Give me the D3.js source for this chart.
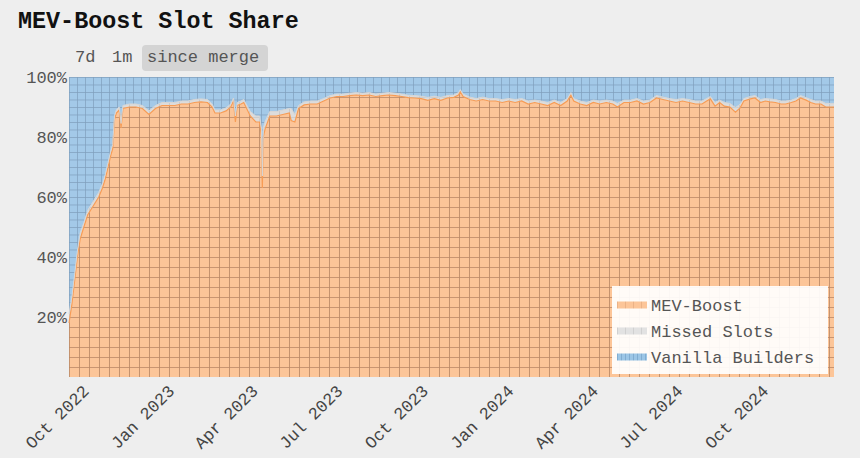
<!DOCTYPE html>
<html>
<head>
<meta charset="utf-8">
<script src="https://cdn.jsdelivr.net/npm/d3@7"></script>
<style>
  body { margin: 0; background: #eeeeee; }
  svg { display: block; font-family: "Liberation Mono", "Courier New", monospace; }
</style>
</head>
<body>
<svg id="chart" width="860" height="458"></svg>
<script>
// data (share of slots, %)
const dates = [
  "2022-09-15","2022-09-18","2022-09-21","2022-09-24","2022-09-27","2022-10-01","2022-10-05","2022-10-09","2022-10-13","2022-10-17",
  "2022-10-21","2022-10-24","2022-10-27","2022-10-30","2022-11-01","2022-11-03","2022-11-05","2022-11-08","2022-11-10","2022-11-12",
  "2022-11-19","2022-11-26","2022-12-03","2022-12-10","2022-12-17","2022-12-24","2022-12-31","2023-01-07","2023-01-14","2023-01-21",
  "2023-01-28","2023-02-04","2023-02-11","2023-02-16","2023-02-19","2023-02-25","2023-03-03","2023-03-08","2023-03-11","2023-03-13",
  "2023-03-15","2023-03-19","2023-03-22","2023-03-29","2023-04-04","2023-04-08","2023-04-10","2023-04-11","2023-04-12","2023-04-14",
  "2023-04-19","2023-04-26","2023-05-03","2023-05-10","2023-05-12","2023-05-16","2023-05-20","2023-05-26","2023-06-02","2023-06-09",
  "2023-06-16","2023-06-23","2023-06-30","2023-07-07","2023-07-14","2023-07-21","2023-07-28","2023-08-04","2023-08-11","2023-08-18",
  "2023-08-25","2023-09-01","2023-09-08","2023-09-15","2023-09-22","2023-09-29","2023-10-06","2023-10-13","2023-10-20","2023-10-27",
  "2023-11-03","2023-11-08","2023-11-10","2023-11-13","2023-11-20","2023-11-27","2023-12-04","2023-12-11","2023-12-18","2023-12-25",
  "2024-01-01","2024-01-08","2024-01-15","2024-01-22","2024-01-29","2024-02-05","2024-02-12","2024-02-19","2024-02-26","2024-03-04",
  "2024-03-08","2024-03-11","2024-03-18","2024-03-25","2024-04-01","2024-04-08","2024-04-15","2024-04-22","2024-04-27","2024-05-04",
  "2024-05-11","2024-05-18","2024-05-25","2024-06-01","2024-06-08","2024-06-15","2024-06-22","2024-06-29","2024-07-06","2024-07-13",
  "2024-07-20","2024-07-27","2024-08-01","2024-08-05","2024-08-10","2024-08-15","2024-08-20","2024-08-26","2024-09-01","2024-09-06",
  "2024-09-10","2024-09-17","2024-09-22","2024-09-28","2024-10-03","2024-10-08","2024-10-14","2024-10-20","2024-10-25","2024-10-31",
  "2024-11-05","2024-11-10","2024-11-16","2024-11-21","2024-11-26","2024-12-02","2024-12-07","2024-12-12","2024-12-16"
];
const mevBoost = [
  18,24,32,40,46,50,54,56,58,60,
  63,66,70,74,76,86,88,89,83,89.5,
  90,90,89.5,87.5,89.5,90.5,90.5,90.5,91,91,
  91.5,91.7,91.5,90,88,88,88.7,90,92,85,
  90.5,91,91.5,87,85,85,80,63,80,82.7,
  87,87,87.5,88,85.5,85,89.5,90.7,91,91,
  92,93,93.5,93.5,93.8,94,93.8,94,93.5,93.8,
  94,93.8,93.5,93.1,93,92.8,92.2,92.8,92.2,93,
  93.2,94,95,93.5,92.5,92,92.5,92,92,91.5,
  92,91.5,92,91,91.5,91,90.5,91.5,90.5,92,
  94,92,91,90.5,91.5,91,91.5,91,90,91.5,
  91.5,92,91,91.5,93,92.5,92,91.5,92,91.5,
  91,91,92,92.7,90.3,91.5,90.3,90,88.3,89.7,
  92,92.7,93,91.5,92,91.7,91.5,91,91,91.5,
  92,93,92.3,91.5,91,91,90,90,90
];
const missedSlots = [
  3,2.5,2,2,2,1.5,1.5,1.5,1.5,1.5,
  1.5,1.5,1.5,1.5,1.5,1.2,1.2,1,1.5,1,
  1,1,1,1.2,1,1,1,1,1,1,
  1,1,1,1,1,1,1,1,1,2,
  1,1,1,1.5,2,2,3,4,3,2.5,
  1.5,1.5,1.5,1.5,4,2.5,1,1,1,1,
  0.8,0.8,0.8,0.8,0.8,0.8,0.8,0.8,0.8,0.8,
  0.8,0.8,0.8,0.8,0.8,0.8,1,0.8,1,0.8,
  0.8,0.8,0.8,0.8,0.8,0.8,0.8,0.8,0.8,1,
  0.8,1,0.8,1,0.8,1,1,0.8,1,0.8,
  0.8,0.8,1,1,0.8,1,0.8,1,1.2,0.8,
  0.8,0.8,1,0.8,0.8,0.8,0.8,1,0.8,1,
  1,1,0.8,0.8,1.2,0.8,1.2,1.2,1.5,1.2,
  0.8,0.8,0.8,1,0.8,1,1,1,1,0.8,
  0.8,0.8,0.8,1,1,1,1.2,1.2,1.2
];
const seriesNames = ["MEV-Boost", "Missed Slots", "Vanilla Builders"];
const yTickValues = [20, 40, 60, 80, 100];
const xTickDates = ["2022-10-01","2023-01-01","2023-04-01","2023-07-01","2023-10-01","2024-01-01","2024-04-01","2024-07-01","2024-10-01"];
const rangeButtons = ["7d", "1m", "since merge"];

const parse = d3.timeParse("%Y-%m-%d");
const rows = dates.map((d, i) => ({
  date: parse(d),
  mev: mevBoost[i],
  missed: missedSlots[i],
  vanilla: 100 - mevBoost[i] - missedSlots[i]
}));

const svg = d3.select("#chart");
const plotLeft = 69, plotRight = 834, plotTop = 77, plotBottom = 377;

const x = d3.scaleTime()
  .domain([parse("2022-09-15"), parse("2024-12-16")])
  .range([plotLeft, plotRight]);
const y = d3.scaleLinear().domain([0, 100]).range([plotBottom, plotTop]);

// hatch patterns
const defs = svg.append("defs");
function gridPattern(id, w, h, bg, line, lw) {
  const p = defs.append("pattern")
    .attr("id", id)
    .attr("patternUnits", "userSpaceOnUse")
    .attr("x", plotLeft).attr("y", plotTop)
    .attr("width", w).attr("height", h);
  p.append("rect").attr("width", w).attr("height", h).attr("fill", bg);
  p.append("path")
    .attr("d", `M0,0V${h}M0,0H${w}`)
    .attr("stroke", line).attr("stroke-width", lw).attr("fill", "none");
}
gridPattern("pMev", 10, 10, "#fcc598", "#b88664", 1.6);
gridPattern("pMissed", 10, 10, "#dcdcdc", "#bdbdbd", 1.2);
gridPattern("pVanilla", 8, 7.5, "#a3c9e8", "#7f9fbc", 1.4);

function linePattern(id, w, bg, line) {
  const p = defs.append("pattern")
    .attr("id", id).attr("patternUnits", "userSpaceOnUse")
    .attr("width", w).attr("height", 10);
  p.append("rect").attr("width", w).attr("height", 10).attr("fill", bg);
  p.append("path").attr("d", "M0,0V10").attr("stroke", line).attr("stroke-width", 1.2);
}
linePattern("sMev", 8, "#fcc598", "#e0a67a");
linePattern("sMissed", 8, "#e2e2e2", "#c4c4c4");
linePattern("sVanilla", 4, "#9cc6e6", "#6f9cc4");

const fills = ["url(#pMev)", "url(#pMissed)", "url(#pVanilla)"];
const swatches = ["url(#sMev)", "url(#sMissed)", "url(#sVanilla)"];

const stack = d3.stack().keys(["mev", "missed", "vanilla"]);
const layers = stack(rows);

const area = d3.area()
  .x(d => x(d.data.date))
  .y0(d => y(d[0]))
  .y1(d => y(d[1]));

svg.append("g").selectAll("path")
  .data(layers)
  .join("path")
  .attr("d", area)
  .attr("fill", (d, i) => fills[i]);

// top edges
svg.append("path")
  .datum(layers[0])
  .attr("fill", "none")
  .attr("stroke", "#f79c55")
  .attr("stroke-width", 1.2)
  .attr("d", d3.line().x(d => x(d.data.date)).y(d => y(d[1])));
svg.append("path")
  .datum(layers[1])
  .attr("fill", "none")
  .attr("stroke", "#d6d6d6")
  .attr("stroke-width", 1)
  .attr("d", d3.line().x(d => x(d.data.date)).y(d => y(d[1])));

// y axis labels
svg.append("g").selectAll("text")
  .data(yTickValues)
  .join("text")
  .attr("x", plotLeft - 2)
  .attr("y", d => y(d))
  .attr("dy", "0.35em")
  .attr("text-anchor", "end")
  .attr("font-size", 17)
  .attr("fill", "#555")
  .text(d => d + "%");

// x axis labels
const fmt = d3.timeFormat("%b %Y");
svg.append("g").selectAll("text")
  .data(xTickDates.map(parse))
  .join("text")
  .attr("transform", d => `translate(${x(d) + 6},${plotBottom + 15}) rotate(-45)`)
  .attr("text-anchor", "end")
  .attr("font-size", 17)
  .attr("fill", "#444")
  .text(d => fmt(d));

// legend
const legend = svg.append("g");
legend.append("rect")
  .attr("x", 612).attr("y", 286)
  .attr("width", 216).attr("height", 88)
  .attr("fill", "#ffffff").attr("opacity", 0.92);
const items = legend.selectAll("g.item")
  .data(seriesNames)
  .join("g")
  .attr("transform", (d, i) => `translate(617,${305 + i * 26})`);
items.append("rect")
  .attr("x", 0).attr("y", -3.5)
  .attr("width", 30).attr("height", 7)
  .attr("fill", (d, i) => swatches[i]);
items.append("text")
  .attr("x", 34).attr("dy", "0.35em")
  .attr("font-size", 17)
  .attr("fill", "#555")
  .text(d => d);

// title
svg.append("text")
  .attr("x", 18).attr("y", 28)
  .attr("font-size", 23.4)
  .attr("font-weight", "bold")
  .attr("fill", "#111")
  .text("MEV-Boost Slot Share");

// range buttons
svg.append("rect")
  .attr("x", 142).attr("y", 45)
  .attr("width", 126).attr("height", 26)
  .attr("rx", 4)
  .attr("fill", "#d4d4d4");
const btnX = [75, 112, 147];
svg.append("g").selectAll("text")
  .data(rangeButtons)
  .join("text")
  .attr("x", (d, i) => btnX[i])
  .attr("y", 62)
  .attr("font-size", 17)
  .attr("fill", "#555")
  .text(d => d);
</script>
</body>
</html>
